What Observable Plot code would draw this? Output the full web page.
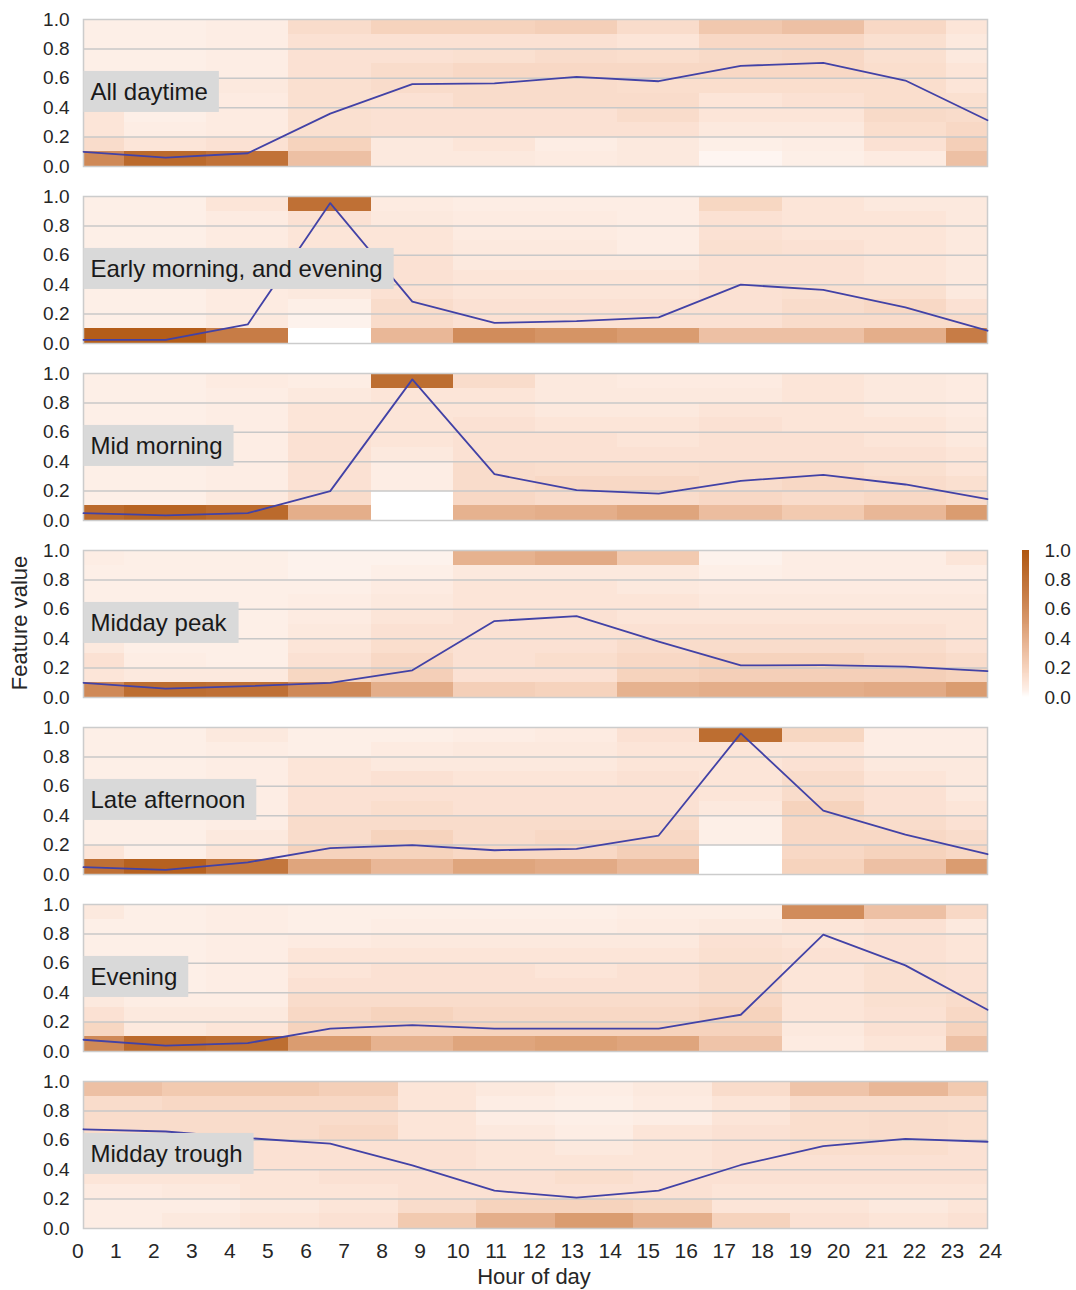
<!DOCTYPE html>
<html>
<head>
<meta charset="utf-8">
<script src="https://cdn.jsdelivr.net/npm/d3@7"></script>
<script src="https://cdn.jsdelivr.net/npm/@observablehq/plot@0.6"></script>
<style>
  body { margin: 0; background: #fff; font-family: "Liberation Sans", Arial, sans-serif; }
  #wrap { position: relative; width: 1076px; height: 1290px; overflow: hidden; }
  #main { position: absolute; left: 0; top: 0; }
  #xaxis { position: absolute; left: 0; top: 1228px; }
  #cbar { position: absolute; left: 1010px; top: 540px; }
  .axtitle { position: absolute; font-size: 22px; line-height: 22px; color: #262626; white-space: nowrap; }
  #xtitle { left: 0; width: 1068px; top: 1266px; text-align: center; }
  #ytitle { left: -80px; width: 200px; top: 612px; text-align: center; transform: rotate(-90deg); transform-origin: 100px 11px; }
</style>
</head>
<body>
<div id="wrap">
  <div id="main"></div>
  <div id="xaxis"></div>
  <div id="cbar"></div>
  <div class="axtitle" id="xtitle">Hour of day</div>
  <div class="axtitle" id="ytitle">Feature value</div>
</div>
<script>
// ---------- data ----------
const panels = ["All daytime", "Early morning, and evening", "Mid morning", "Midday peak", "Late afternoon", "Evening", "Midday trough"];

// hours at which the profile line is sampled
const hours = [0, 2.18, 4.36, 6.55, 8.73, 10.91, 13.09, 15.27, 17.45, 19.64, 21.82, 24];

// heatmap column edges (hours) for panels 1-6 and for the last panel
const binEdges = [0, 1.09, 3.27, 5.45, 7.64, 9.82, 12, 14.18, 16.36, 18.55, 20.73, 22.91, 24];
const troughEdges = [0, 2.09, 4.17, 6.26, 8.35, 10.43, 12.52, 14.61, 16.7, 18.78, 20.87, 22.96, 24];

// heatmap row edges (feature value)
const rowEdges = [0, 0.1, 0.2, 0.3, 0.4, 0.5, 0.6, 0.7, 0.8, 0.9, 1.0];

// x tick labels (hours of day)
const hourTicks = [0, 1, 2, 3, 4, 5, 6, 7, 8, 9, 10, 11, 12, 13, 14, 15, 16, 17, 18, 19, 20, 21, 22, 23, 24];

// heatmap values: one inner array per column, rows from 0.0-0.1 (first) up to 0.9-1.0 (last)
const heatAllDaytime = [
  [0.62,0.15,0.10,0.10,0.07,0.07,0.05,0.05,0.05,0.05],
  [0.85,0.10,0.06,0.05,0.05,0.05,0.05,0.05,0.05,0.05],
  [0.78,0.12,0.07,0.07,0.07,0.08,0.06,0.06,0.06,0.06],
  [0.30,0.20,0.13,0.13,0.13,0.13,0.12,0.12,0.12,0.15],
  [0.08,0.08,0.12,0.12,0.12,0.15,0.15,0.12,0.12,0.20],
  [0.08,0.10,0.12,0.12,0.15,0.15,0.17,0.13,0.12,0.20],
  [0.07,0.06,0.12,0.12,0.15,0.15,0.17,0.15,0.12,0.22],
  [0.08,0.08,0.12,0.15,0.15,0.14,0.17,0.14,0.10,0.15],
  [0.03,0.05,0.08,0.10,0.10,0.14,0.17,0.16,0.17,0.26],
  [0.05,0.06,0.08,0.10,0.12,0.14,0.17,0.17,0.17,0.30],
  [0.07,0.12,0.14,0.16,0.14,0.14,0.14,0.13,0.13,0.17],
  [0.30,0.22,0.17,0.15,0.13,0.10,0.10,0.08,0.08,0.10]
];
const heatEarlyEvening = [
  [0.95,0.05,0.05,0.05,0.05,0.05,0.05,0.05,0.05,0.05],
  [0.95,0.05,0.05,0.05,0.05,0.05,0.05,0.05,0.05,0.05],
  [0.70,0.08,0.07,0.07,0.07,0.07,0.07,0.07,0.07,0.10],
  [0.00,0.04,0.05,0.08,0.08,0.10,0.10,0.10,0.12,0.80],
  [0.35,0.15,0.15,0.12,0.12,0.12,0.10,0.10,0.08,0.07],
  [0.60,0.12,0.12,0.10,0.10,0.08,0.08,0.07,0.07,0.06],
  [0.55,0.12,0.12,0.10,0.10,0.08,0.08,0.07,0.07,0.06],
  [0.50,0.12,0.12,0.10,0.10,0.08,0.06,0.06,0.06,0.06],
  [0.30,0.12,0.12,0.12,0.12,0.12,0.13,0.12,0.12,0.18],
  [0.30,0.15,0.15,0.13,0.12,0.12,0.12,0.10,0.10,0.10],
  [0.40,0.15,0.17,0.13,0.10,0.10,0.10,0.10,0.10,0.08],
  [0.70,0.15,0.12,0.08,0.08,0.08,0.08,0.08,0.08,0.08]
];
const heatMidMorning = [
  [0.85,0.05,0.05,0.05,0.05,0.05,0.05,0.05,0.05,0.05],
  [0.90,0.05,0.05,0.05,0.05,0.05,0.05,0.05,0.05,0.05],
  [0.85,0.08,0.06,0.06,0.06,0.06,0.06,0.06,0.06,0.07],
  [0.40,0.15,0.12,0.12,0.12,0.12,0.10,0.10,0.08,0.06],
  [0.00,0.00,0.06,0.06,0.08,0.10,0.10,0.10,0.10,0.82],
  [0.38,0.17,0.15,0.15,0.12,0.12,0.12,0.10,0.10,0.15],
  [0.40,0.15,0.17,0.14,0.12,0.12,0.10,0.08,0.08,0.08],
  [0.45,0.15,0.17,0.14,0.12,0.10,0.10,0.08,0.08,0.07],
  [0.32,0.17,0.15,0.15,0.12,0.12,0.12,0.10,0.08,0.07],
  [0.25,0.15,0.17,0.15,0.12,0.12,0.10,0.10,0.10,0.10],
  [0.35,0.17,0.15,0.13,0.12,0.10,0.10,0.08,0.08,0.08],
  [0.50,0.15,0.13,0.10,0.10,0.08,0.08,0.07,0.07,0.07]
];
const heatMiddayPeak = [
  [0.62,0.10,0.12,0.08,0.05,0.05,0.05,0.05,0.05,0.06],
  [0.82,0.08,0.06,0.05,0.05,0.05,0.05,0.05,0.05,0.05],
  [0.80,0.08,0.05,0.05,0.05,0.05,0.05,0.05,0.05,0.05],
  [0.62,0.18,0.12,0.10,0.08,0.07,0.06,0.05,0.04,0.04],
  [0.40,0.22,0.17,0.14,0.12,0.10,0.08,0.07,0.05,0.04],
  [0.22,0.12,0.12,0.12,0.12,0.12,0.10,0.10,0.08,0.38],
  [0.20,0.12,0.14,0.12,0.12,0.12,0.10,0.10,0.08,0.42],
  [0.38,0.20,0.17,0.15,0.12,0.10,0.10,0.08,0.08,0.25],
  [0.40,0.22,0.20,0.15,0.12,0.10,0.08,0.07,0.05,0.04],
  [0.40,0.22,0.20,0.15,0.12,0.10,0.08,0.07,0.06,0.06],
  [0.42,0.22,0.17,0.15,0.12,0.10,0.08,0.07,0.06,0.06],
  [0.50,0.20,0.15,0.12,0.10,0.10,0.08,0.07,0.06,0.10]
];
const heatLateAfternoon = [
  [0.80,0.10,0.05,0.05,0.05,0.05,0.05,0.05,0.05,0.05],
  [0.92,0.05,0.05,0.05,0.05,0.05,0.05,0.05,0.05,0.05],
  [0.75,0.10,0.08,0.06,0.06,0.06,0.06,0.06,0.06,0.08],
  [0.45,0.20,0.15,0.15,0.12,0.12,0.10,0.10,0.05,0.05],
  [0.35,0.20,0.20,0.15,0.14,0.12,0.12,0.08,0.07,0.05],
  [0.45,0.17,0.15,0.15,0.12,0.12,0.10,0.08,0.08,0.06],
  [0.42,0.17,0.17,0.15,0.12,0.12,0.10,0.08,0.08,0.07],
  [0.35,0.22,0.17,0.15,0.12,0.12,0.12,0.10,0.10,0.12],
  [0.00,0.00,0.05,0.05,0.08,0.10,0.10,0.10,0.10,0.82],
  [0.20,0.17,0.17,0.17,0.20,0.15,0.15,0.12,0.10,0.18],
  [0.30,0.20,0.17,0.15,0.12,0.12,0.10,0.08,0.06,0.06],
  [0.50,0.17,0.15,0.12,0.10,0.08,0.08,0.08,0.06,0.06]
];
const heatEvening = [
  [0.62,0.18,0.12,0.08,0.05,0.05,0.05,0.05,0.05,0.08],
  [0.85,0.08,0.08,0.06,0.05,0.05,0.05,0.05,0.05,0.05],
  [0.82,0.10,0.08,0.06,0.06,0.06,0.06,0.06,0.06,0.06],
  [0.50,0.20,0.17,0.15,0.12,0.10,0.10,0.07,0.05,0.05],
  [0.38,0.20,0.20,0.15,0.12,0.12,0.10,0.08,0.06,0.05],
  [0.45,0.20,0.17,0.15,0.12,0.12,0.10,0.08,0.06,0.05],
  [0.48,0.20,0.17,0.15,0.12,0.10,0.10,0.08,0.06,0.05],
  [0.45,0.20,0.17,0.15,0.12,0.12,0.10,0.08,0.07,0.06],
  [0.28,0.20,0.20,0.17,0.15,0.15,0.13,0.12,0.08,0.06],
  [0.07,0.08,0.10,0.10,0.10,0.10,0.12,0.10,0.10,0.60],
  [0.10,0.12,0.12,0.13,0.13,0.13,0.12,0.12,0.12,0.30],
  [0.30,0.20,0.17,0.15,0.12,0.12,0.10,0.10,0.08,0.17]
];
const heatMiddayTrough = [
  [0.06,0.06,0.07,0.10,0.10,0.12,0.15,0.15,0.15,0.30],
  [0.08,0.06,0.08,0.10,0.10,0.12,0.15,0.15,0.17,0.25],
  [0.10,0.08,0.10,0.10,0.12,0.12,0.15,0.15,0.17,0.25],
  [0.12,0.10,0.10,0.12,0.12,0.12,0.17,0.15,0.17,0.22],
  [0.25,0.15,0.12,0.12,0.12,0.12,0.10,0.10,0.10,0.10],
  [0.40,0.20,0.12,0.12,0.10,0.10,0.08,0.06,0.06,0.08],
  [0.50,0.20,0.12,0.14,0.10,0.08,0.06,0.05,0.05,0.06],
  [0.40,0.18,0.12,0.12,0.10,0.10,0.10,0.06,0.07,0.08],
  [0.20,0.10,0.10,0.12,0.12,0.12,0.12,0.10,0.10,0.15],
  [0.12,0.10,0.10,0.12,0.12,0.14,0.14,0.14,0.15,0.28],
  [0.10,0.08,0.10,0.12,0.12,0.14,0.15,0.15,0.15,0.35],
  [0.12,0.10,0.10,0.12,0.12,0.12,0.14,0.14,0.15,0.25]
];

// profile lines (one value per entry of `hours`)
const lineAllDaytime    = [0.10, 0.06, 0.09, 0.36, 0.56, 0.565, 0.61, 0.58, 0.685, 0.705, 0.585, 0.315];
const lineEarlyEvening  = [0.025, 0.025, 0.13, 0.955, 0.285, 0.14, 0.152, 0.178, 0.40, 0.365, 0.245, 0.087];
const lineMidMorning    = [0.05, 0.035, 0.05, 0.20, 0.96, 0.315, 0.206, 0.183, 0.27, 0.31, 0.245, 0.145];
const lineMiddayPeak    = [0.10, 0.06, 0.077, 0.10, 0.185, 0.52, 0.553, 0.38, 0.218, 0.22, 0.21, 0.18];
const lineLateAfternoon = [0.05, 0.032, 0.083, 0.18, 0.20, 0.165, 0.175, 0.265, 0.96, 0.435, 0.272, 0.138];
const lineEvening       = [0.08, 0.04, 0.057, 0.155, 0.18, 0.155, 0.156, 0.155, 0.25, 0.795, 0.586, 0.284];
const lineMiddayTrough  = [0.675, 0.66, 0.615, 0.578, 0.43, 0.257, 0.21, 0.257, 0.432, 0.56, 0.61, 0.59];

const gridValues = [0.2, 0.4, 0.6, 0.8];
const colorStops = [0, 0.05, 0.1, 0.2, 0.35, 0.5, 0.7, 0.85, 1];
const colorRange = ["#ffffff", "#fdefe7", "#fce5d8", "#f6d3bd", "#e9b797", "#da9c70", "#c77c46", "#bb6a2c", "#b05710"];

// ---------- tables built from the arrays ----------
const heats = [heatAllDaytime, heatEarlyEvening, heatMidMorning, heatMiddayPeak, heatLateAfternoon, heatEvening, heatMiddayTrough];
const lines = [lineAllDaytime, lineEarlyEvening, lineMidMorning, lineMiddayPeak, lineLateAfternoon, lineEvening, lineMiddayTrough];

const cells = [];
panels.forEach((p, i) => {
  const edges = i === 6 ? troughEdges : binEdges;
  heats[i].forEach((col, c) => col.forEach((v, r) => {
    cells.push({panel: p, x1: edges[c], x2: edges[c + 1], y1: rowEdges[r], y2: rowEdges[r + 1], v});
  }));
});
const linePts = panels.flatMap((p, i) => lines[i].map((v, k) => ({panel: p, hour: hours[k], value: v})));
const labelRows = panels.map(p => ({panel: p}));

const colorOpts = {type: "linear", domain: colorStops, range: colorRange, interpolate: "rgb", clamp: true};
const FONT = '"Liberation Sans", Arial, sans-serif';

const chart = Plot.plot({
  width: 1000,
  height: 1290,
  marginLeft: 83,
  marginRight: 13,
  marginTop: 18.5,
  marginBottom: 62,
  style: {fontFamily: FONT, fontSize: "19px", color: "#262626", background: "transparent"},
  x: {domain: [0, 24], axis: null},
  y: {domain: [0, 1], ticks: 5, tickFormat: ".1f", tickSize: 0, tickPadding: 14, label: null},
  fy: {domain: panels, paddingInner: 0.1667, paddingOuter: 0, axis: null, label: null},
  color: colorOpts,
  marks: [
    Plot.rect(cells, {x1: "x1", x2: "x2", y1: "y1", y2: "y2", fy: "panel", fill: "v", shapeRendering: "crispEdges"}),
    Plot.ruleY(gridValues, {stroke: "#c8c8c8", strokeWidth: 1.5}),
    Plot.frame({stroke: "#cccccc", strokeWidth: 1.5}),
    Plot.line(linePts, {x: "hour", y: "value", fy: "panel", stroke: "#4242a6", strokeWidth: 1.8}),
    Plot.text(labelRows, {fy: "panel", text: "panel", frameAnchor: "left", y: 0.505, dx: 7, textAnchor: "start", fontSize: 24, fill: "#1a1a1a"})
  ]
});
document.getElementById("main").appendChild(chart);

// grey label boxes behind the panel names
chart.querySelectorAll('g[aria-label="text"] text').forEach(t => {
  const b = t.getBBox();
  const r = document.createElementNS("http://www.w3.org/2000/svg", "rect");
  r.setAttribute("x", b.x - 7);
  r.setAttribute("y", b.y - 7);
  r.setAttribute("width", b.width + 18);
  r.setAttribute("height", b.height + 14);
  r.setAttribute("fill", "#d9d9d9");
  if (t.getAttribute("transform")) r.setAttribute("transform", t.getAttribute("transform"));
  t.parentNode.insertBefore(r, t);
});

// hour-of-day tick labels under the bottom panel
const xAxisPlot = Plot.plot({
  width: 1076,
  height: 40,
  marginLeft: 77.3,
  marginRight: 86,
  marginTop: 0,
  marginBottom: 40,
  style: {fontFamily: FONT, fontSize: "21px", color: "#262626", background: "transparent"},
  x: {domain: [0, 24], ticks: hourTicks, tickFormat: "d", tickSize: 0, tickPadding: 15, label: null},
  marks: [Plot.axisX(hourTicks, {tickSize: 0, tickPadding: 15, tickFormat: "d", label: null})]
});
document.getElementById("xaxis").appendChild(xAxisPlot);

// vertical colour bar
const rampSteps = d3.range(150).map(i => ({y1: i / 150, y2: (i + 1) / 150, v: (i + 0.5) / 150}));
const cbar = Plot.plot({
  width: 66,
  height: 170,
  marginTop: 10,
  marginBottom: 13,
  marginLeft: 12,
  marginRight: 47,
  style: {fontFamily: FONT, fontSize: "19px", color: "#262626", background: "transparent"},
  x: {domain: [0, 1], axis: null},
  y: {domain: [0, 1], ticks: 5, tickFormat: ".1f", tickSize: 0, tickPadding: 15, axis: "right", label: null},
  color: colorOpts,
  marks: [
    Plot.rect(rampSteps, {x1: 0, x2: 1, y1: "y1", y2: "y2", fill: "v", shapeRendering: "crispEdges"})
  ]
});
document.getElementById("cbar").appendChild(cbar);
</script>
</body>
</html>
